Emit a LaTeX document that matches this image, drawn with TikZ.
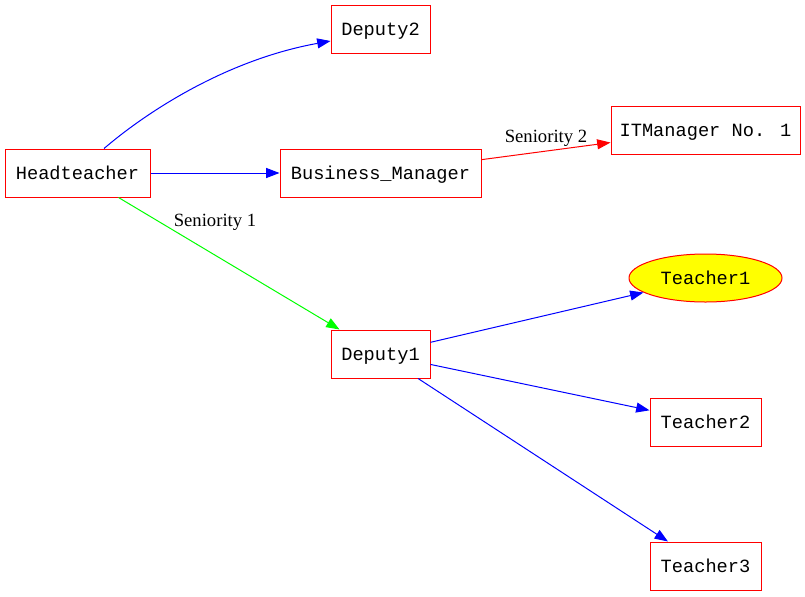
\documentclass[tikz,border=0pt]{standalone}
\usepackage{fontspec}
\setmainfont{Liberation Serif}
\newfontfamily\gvmono{Liberation Mono}
\usetikzlibrary{arrows.meta,shapes.geometric}
\definecolor{gvred}{RGB}{255,0,0}
\definecolor{gvblue}{RGB}{0,0,255}
\definecolor{gvgreen}{RGB}{0,255,0}
\definecolor{gvyellow}{RGB}{255,255,0}
\tikzset{
  gvbox/.style={draw=gvred, line width=0.75pt, rectangle, minimum height=36pt, inner sep=0pt,
    text height=10pt, text depth=0pt,
    font=\gvmono\fontsize{14pt}{16pt}\selectfont},
  gvell/.style={draw=gvred, fill=gvyellow, line width=0.75pt, ellipse, minimum height=36pt, inner sep=0pt,
    text height=10pt, text depth=0pt,
    font=\gvmono\fontsize{14pt}{16pt}\selectfont},
  gvedge/.style={line width=0.75pt, -{Triangle[length=10pt,width=7.5pt]}},
  gvlabel/.style={font=\fontsize{14pt}{16pt}\selectfont, inner sep=0pt, text height=10pt, text depth=0pt}
}
\begin{document}
\begin{tikzpicture}[x=0.75pt,y=-0.75pt]
\useasboundingbox (0,0) rectangle (805,596);
\node[gvbox, minimum width=74.25pt] (Deputy2) at (380.5,29) {Deputy2};
\node[gvbox, minimum width=108.75pt] (Headteacher) at (77.5,173) {Headteacher};
\node[gvbox, minimum width=150.75pt] (Business) at (380.5,173) {Business\_Manager};
\node[gvbox, minimum width=141.75pt] (ITManager) at (705.5,130) {ITManager No. 1};
\node[gvell, minimum width=114.75pt] (Teacher1) at (705.5,278) {Teacher1};
\node[gvbox, minimum width=74.25pt] (Deputy1) at (380.5,354) {Deputy1};
\node[gvbox, minimum width=83.25pt] (Teacher2) at (705.5,422) {Teacher2};
\node[gvbox, minimum width=83.25pt] (Teacher3) at (705.5,566) {Teacher3};

\draw[gvedge, gvblue] ([xshift=19.9pt]Headteacher.north) .. controls +(42,-36) and +(-105,19) .. ([yshift=-9pt]Deputy2.west);
\draw[gvedge, gvblue] (Headteacher) -- (Business);
\draw[gvedge, gvred] (Business) -- (ITManager);
\draw[gvedge, gvgreen] (Headteacher) -- (Deputy1);
\draw[gvedge, gvblue] (Deputy1) -- (Teacher1);
\draw[gvedge, gvblue] (Deputy1) -- (Teacher2);
\draw[gvedge, gvblue] (Deputy1) -- (Teacher3);

\node[gvlabel] (lab1) at (215,220) {Seniority 1};
\node[gvlabel] (lab2) at (546,136) {Seniority 2};
\end{tikzpicture}
\end{document}
